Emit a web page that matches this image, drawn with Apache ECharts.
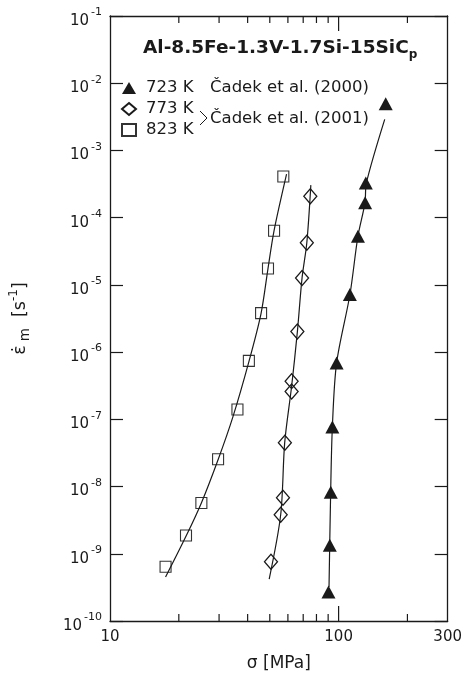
<!DOCTYPE html>
<html><head><meta charset="utf-8">
<script src="https://cdn.jsdelivr.net/npm/echarts@6/dist/echarts.min.js"></script>
<style>html,body{margin:0;padding:0;background:#fff}#c{width:465px;height:677px}</style>
</head><body><div id="c"></div>
<script>
const FONT = 'DejaVu Sans';
const INK = '#1a1a1a';

// 723 K (Cadek et al. 2000) - filled triangles
const sigma723 = [160.7, 131.5, 130.6, 121.5, 112.0, 98.0, 93.9, 92.4, 91.5, 90.3];
const rate723  = [4.95e-3, 3.27e-4, 1.66e-4, 5.3e-5, 7.2e-6, 6.9e-7, 7.7e-8, 8.2e-9, 1.34e-9, 2.7e-10];
// 773 K - open diamonds
const sigma773 = [75.2, 72.6, 69.2, 66.0, 62.3, 62.3, 58.2, 57.1, 55.8, 50.6];
const rate773  = [2.08e-4, 4.24e-5, 1.27e-5, 2.02e-6, 3.7e-7, 2.6e-7, 4.5e-8, 6.8e-9, 3.8e-9, 7.6e-10];
// 823 K - open squares
const sigma823 = [57.3, 52.2, 49.1, 45.8, 40.5, 36.1, 29.7, 25.1, 21.5, 17.5];
const rate823  = [4.1e-4, 6.4e-5, 1.75e-5, 3.8e-6, 7.4e-7, 1.4e-7, 2.55e-8, 5.7e-9, 1.87e-9, 6.4e-10];

// fitted curves
const fitSigma723 = [90.8, 92.3, 93.9, 98.0, 112.1, 121.5, 130.4, 132.3, 159.1];
const fitRate723  = [3.2e-10, 8.2e-9, 7.7e-8, 6.9e-7, 7.2e-6, 5.3e-5, 1.66e-4, 3.3e-4, 2.9e-3];
const fitSigma773 = [49.7, 55.8, 58.1, 62.3, 66.0, 69.2, 72.6, 75.6];
const fitRate773  = [4.2e-10, 3.8e-9, 4.5e-8, 3.1e-7, 2.0e-6, 1.27e-5, 4.24e-5, 3.05e-4];
const fitSigma823 = [17.5, 21.6, 25.1, 29.75, 34.4, 40.6, 45.8, 49.1, 52.2, 59.2];
const fitRate823  = [4.5e-10, 1.88e-9, 5.7e-9, 2.55e-8, 1.06e-7, 7.43e-7, 3.78e-6, 1.75e-5, 6.44e-5, 4.45e-4];

// axis ticks
const xMinorTicks = [20, 30, 40, 50, 60, 70, 80, 90, 200];
const xMajorTicks = [100];
const xTickLabels = [10, 100, 300];
const yDecades = [1e-10, 1e-9, 1e-8, 1e-7, 1e-6, 1e-5, 1e-4, 1e-3, 1e-2, 1e-1];

const zip = (a, b) => a.map((v, i) => [v, b[i]]);

function xAxis(pos, labels) {
  return {
    type: 'log', logBase: 10, min: 10, max: 300, position: pos,
    axisLine: { show: true, lineStyle: { color: INK, width: 1.3 } },
    axisTick: { show: false },
    axisLabel: labels ? { show: true, customValues: labels, margin: 9, fontFamily: FONT, fontSize: 15, color: INK }
                      : { show: false },
    splitLine: { show: false }
  };
}

const baseGraphic = [
  {
    id: 'title', type: 'text', left: 143, top: 39,
    style: {
      text: '{t|Al-8.5Fe-1.3V-1.7Si-15SiC}{p|p}',
      rich: {
        t: { fontFamily: FONT, fontWeight: 'bold', fontSize: 18.5, fill: INK, lineHeight: 24, verticalAlign: 'middle' },
        p: { fontFamily: FONT, fontWeight: 'bold', fontSize: 12, fill: INK, lineHeight: 10, verticalAlign: 'bottom' }
      }
    }
  },
  { id: 'ref2000', type: 'text', x: 210, y: 88, style: { text: 'Čadek et al. (2000)', fontFamily: FONT, fontSize: 16.5, fill: INK, verticalAlign: 'middle' } },
  { id: 'ref2001', type: 'text', x: 210, y: 119, style: { text: 'Čadek et al. (2001)', fontFamily: FONT, fontSize: 16.5, fill: INK, verticalAlign: 'middle' } },
  { id: 'brace', type: 'polyline', shape: { points: [[200, 111], [207, 118], [200, 125]] }, style: { stroke: INK, lineWidth: 1, fill: null } }
];

const chart = echarts.init(document.getElementById('c'));
chart.setOption({
  animation: false,
  backgroundColor: '#fff',
  grid: { left: 105, right: 15, top: 16, bottom: 53 },
  xAxis: [
    Object.assign(xAxis('bottom', xTickLabels), {
      name: 'σ [MPa]', nameLocation: 'middle', nameGap: 34,
      nameTextStyle: { fontFamily: FONT, fontSize: 17, color: INK }
    }),
    xAxis('top', null)
  ],
  yAxis: [
    {
      type: 'log', logBase: 10, min: 1e-10, max: 1e-1, position: 'left',
      axisLine: { show: true, lineStyle: { color: INK, width: 1.3 } },
      axisTick: { show: true, inside: true, length: 13, customValues: yDecades, lineStyle: { color: INK, width: 1.2 } },
      axisLabel: {
        show: true, customValues: yDecades, margin: 8,
        padding: [10, 0, 0, 0],
        formatter: v => '{b|10}{s|' + Math.round(Math.log10(v)) + '}',
        rich: {
          b: { fontFamily: FONT, fontSize: 15, color: INK, lineHeight: 28, verticalAlign: 'middle' },
          s: { fontFamily: FONT, fontSize: 11, color: INK, lineHeight: 10, verticalAlign: 'top', padding: [0, 0, 0, 2] }
        }
      },
      splitLine: { show: false },
      name: '{e|ε̇}{m|m}{e|  [s}{u|-1}{e|]}',
      nameLocation: 'middle', nameRotate: 90, nameGap: 78,
      nameTextStyle: {
        rich: {
          e: { fontFamily: FONT, fontSize: 17.5, color: INK, lineHeight: 24, verticalAlign: 'middle' },
          m: { fontFamily: FONT, fontSize: 13.5, color: INK, lineHeight: 12, verticalAlign: 'bottom', padding: [0, 0, 0, 4] },
          u: { fontFamily: FONT, fontSize: 12, color: INK, lineHeight: 12, verticalAlign: 'top' }
        }
      }
    },
    {
      type: 'log', logBase: 10, min: 1e-10, max: 1e-1, position: 'right',
      axisLine: { show: true, lineStyle: { color: INK, width: 1.3 } },
      axisTick: { show: true, inside: true, length: 13, customValues: yDecades, lineStyle: { color: INK, width: 1.2 } },
      axisLabel: { show: false },
      splitLine: { show: false }
    }
  ],
  legend: {
    data: ['723 K', '773 K', '823 K'],
    orient: 'vertical', left: 121, top: 78, padding: 0,
    itemWidth: 14, itemHeight: 12, itemGap: 1,
    textStyle: { fontFamily: FONT, fontSize: 16.5, color: INK, lineHeight: 20, padding: [0, 0, 0, 5] }
  },
  graphic: baseGraphic,
  series: [
    { type: 'line', data: zip(fitSigma823, fitRate823), smooth: 0.3, symbol: 'none', silent: true, lineStyle: { color: INK, width: 1.2 } },
    { type: 'line', data: zip(fitSigma773, fitRate773), smooth: 0.3, symbol: 'none', silent: true, lineStyle: { color: INK, width: 1.2 } },
    { type: 'line', data: zip(fitSigma723, fitRate723), smooth: 0.3, symbol: 'none', silent: true, lineStyle: { color: INK, width: 1.2 } },
    { type: 'scatter', name: '723 K', data: zip(sigma723, rate723), symbol: 'triangle', symbolSize: [14, 13],
      itemStyle: { color: INK, opacity: 1 } },
    { type: 'scatter', name: '773 K', data: zip(sigma773, rate773), symbol: 'diamond', symbolSize: [13, 15],
      itemStyle: { color: 'rgba(255,255,255,0)', borderColor: INK, borderWidth: 1.3, opacity: 1 } },
    { type: 'scatter', name: '823 K', data: zip(sigma823, rate823), symbol: 'rect', symbolSize: 11,
      itemStyle: { color: 'rgba(255,255,255,0)', borderColor: '#333', borderWidth: 1.1, opacity: 1 } }
  ]
});

// x-axis tick marks: positions come from the chart's own log x scale
(function addXTicks() {
  const yb = chart.convertToPixel({ yAxisIndex: 0 }, 1e-10);
  const yt = chart.convertToPixel({ yAxisIndex: 0 }, 1e-1);
  const x0 = chart.convertToPixel({ xAxisIndex: 0 }, 10);
  const x1 = chart.convertToPixel({ xAxisIndex: 0 }, 300);
  const marks = [];
  function add(values, len, tag) {
    const xs = values.map(v => chart.convertToPixel({ xAxisIndex: 0 }, v));
    const ok = xs.every((x, i) => isFinite(x) && x > x0 && x < x1 && (i === 0 || x > xs[i - 1]));
    if (!ok || !isFinite(yb) || !isFinite(yt)) return;
    xs.forEach((x, i) => {
      marks.push({ id: tag + 'b' + i, type: 'line', silent: true, z: 10,
        shape: { x1: x, y1: yb, x2: x, y2: yb - len }, style: { stroke: INK, lineWidth: 1.2 } });
      marks.push({ id: tag + 't' + i, type: 'line', silent: true, z: 10,
        shape: { x1: x, y1: yt, x2: x, y2: yt + len }, style: { stroke: INK, lineWidth: 1.2 } });
    });
  }
  add(xMinorTicks, 7, 'mn');
  add(xMajorTicks, 15, 'mj');
  if (marks.length) chart.setOption({ graphic: baseGraphic.concat(marks) });
})();
</script>
</body></html>
